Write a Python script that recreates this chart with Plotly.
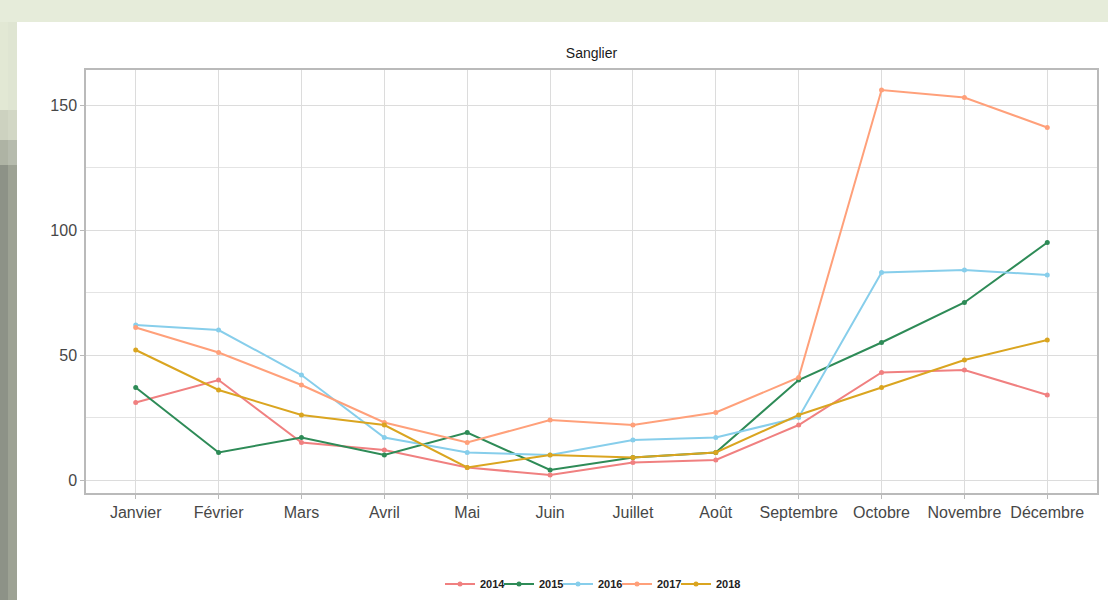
import plotly.graph_objects as go

months = ["Janvier", "Février", "Mars", "Avril", "Mai", "Juin", "Juillet",
          "Août", "Septembre", "Octobre", "Novembre", "Décembre"]
years = ["2014", "2015", "2016", "2017", "2018"]
v2014 = [31, 40, 15, 12, 5, 2, 7, 8, 22, 43, 44, 34]
v2015 = [37, 11, 17, 10, 19, 4, 9, 11, 40, 55, 71, 95]
v2016 = [62, 60, 42, 17, 11, 10, 16, 17, 25, 83, 84, 82]
v2017 = [61, 51, 38, 23, 15, 24, 22, 27, 41, 156, 153, 141]
v2018 = [52, 36, 26, 22, 5, 10, 9, 11, 26, 37, 48, 56]
series = [v2014, v2015, v2016, v2017, v2018]
colors = ["#F08080", "#2E8B57", "#87CEEB", "#FFA07A", "#DAA520"]

W, H = 1108, 600
L, R, T, B = 86, 1097, 70, 493
pw, ph = R - L, B - T

def px(x):
    return (x - L) / pw

def py(y):
    return (B - y) / ph

fig = go.Figure()
for name, vals, col in zip(years, series, colors):
    fig.add_trace(go.Scatter(
        x=months, y=vals, name=name, mode="lines+markers",
        line=dict(color=col, width=2),
        marker=dict(color=col, size=5, symbol="circle"),
    ))
# empty spacer entry so the last legend label is not clipped
fig.add_trace(go.Scatter(x=[None], y=[None], mode="lines", name="",
                         line=dict(color="rgba(0,0,0,0)"), hoverinfo="skip"))

font_fam = "Liberation Sans, Arial, sans-serif"

shapes = []
# top green border
shapes.append(dict(type="rect", xref="paper", yref="paper", x0=px(0), x1=px(W), y0=py(22), y1=py(0),
                   fillcolor="#e6ecda", line=dict(width=0), layer="above"))
# left strip bands
bands = [(0, 22, "#e6ecda", "#e6ecda"), (22, 110, "#e2e8d4", "#dfe5d2"), (110, 140, "#cdd2c0", "#d2d7c5"),
         (140, 165, "#aeb3a4", "#b6bbad"), (165, 600, "#8d9287", "#9da294")]
for y0, y1, c1, c2 in bands:
    shapes.append(dict(type="rect", xref="paper", yref="paper", x0=px(0), x1=px(8), y0=py(y1), y1=py(y0),
                       fillcolor=c1, line=dict(width=0), layer="above"))
    shapes.append(dict(type="rect", xref="paper", yref="paper", x0=px(8), x1=px(17), y0=py(y1), y1=py(y0),
                       fillcolor=c2, line=dict(width=0), layer="above"))

fig.update_layout(
    width=W, height=H,
    margin=dict(l=L, r=W - R, t=T, b=H - B, autoexpand=False),
    paper_bgcolor="white", plot_bgcolor="white",
    font=dict(family=font_fam, size=16, color="#474747"),
    title=dict(text="Sanglier", x=(L + R) / 2 / W, xanchor="center", y=1 - 53 / H, yanchor="middle",
               font=dict(family=font_fam, size=14, color="#1a1a1a")),
    showlegend=True,
    legend=dict(orientation="h", x=px(617), xanchor="center", y=py(584), yanchor="middle",
                font=dict(family=font_fam, size=11, color="#222222", weight="bold"), itemwidth=30,
                entrywidth=14, bgcolor="rgba(0,0,0,0)"),
    shapes=shapes,
)
fig.update_xaxes(
    type="category", range=[-0.6, 11.6],
    showgrid=True, gridcolor="#dcdcdc", gridwidth=1.2,
    showline=True, mirror=True, linecolor="#bababa", linewidth=1.5,
    ticks="outside", ticklen=4, tickcolor="#bababa",
    tickfont=dict(family=font_fam, size=16, color="#474747"),
    zeroline=False,
)
fig.update_yaxes(
    range=[-5.2, 164], tickvals=[0, 50, 100, 150], ticktext=["0", "50", "100", "150"],
    showgrid=True, gridcolor="#dcdcdc", gridwidth=1.2,
    minor=dict(tickvals=[25, 75, 125], showgrid=True, gridcolor="#e4e4e4", gridwidth=1),
    showline=True, mirror=True, linecolor="#bababa", linewidth=1.5,
    ticks="outside", ticklen=4, tickcolor="#bababa",
    tickfont=dict(family=font_fam, size=16, color="#474747"),
    zeroline=False,
)

fig.write_html("out.html", config={"displayModeBar": False},
               post_script="document.body.style.margin='0';")
